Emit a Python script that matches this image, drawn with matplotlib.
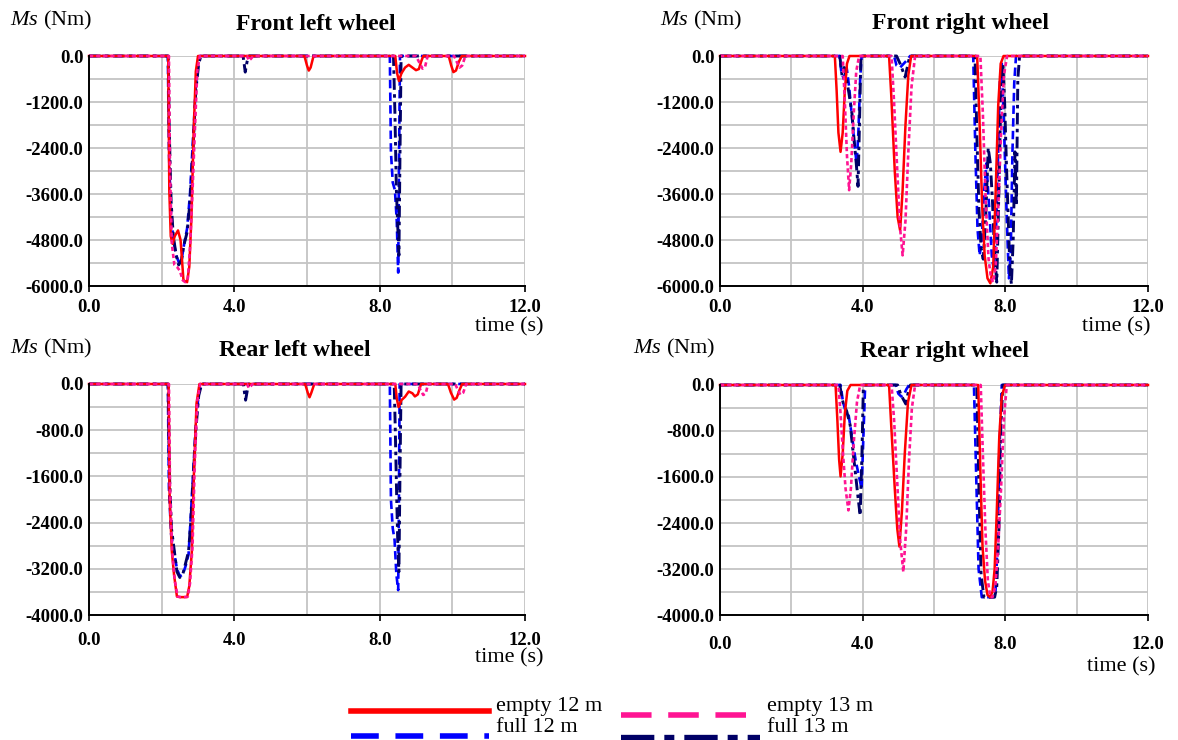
import matplotlib
matplotlib.use("Agg")
import matplotlib.pyplot as plt
from matplotlib.lines import Line2D

plt.rcParams['font.family'] = ['Liberation Serif', 'DejaVu Serif']
plt.rcParams['mathtext.fontset'] = 'custom'
plt.rcParams['mathtext.it'] = 'Liberation Serif:italic'
plt.rcParams['mathtext.rm'] = 'Liberation Serif'

# ---------------- data (time in s, Ms in Nm) ----------------
series_names = ["empty 12 m", "empty 13 m", "full 12 m", "full 13 m"]
panel_titles = ["Front left wheel", "Front right wheel", "Rear left wheel", "Rear right wheel"]
x_tick_values = [0.0, 4.0, 8.0, 12.0]
front_y_ticks = [0.0, -1200.0, -2400.0, -3600.0, -4800.0, -6000.0]
rear_y_ticks = [0.0, -800.0, -1600.0, -2400.0, -3200.0, -4000.0]

# Front left
fl_empty12_t = [0, 2.18, 2.21, 2.25, 2.3, 2.36, 2.45, 2.52, 2.6, 2.7, 2.76, 2.82, 2.88, 2.94, 3.0,
                5.93, 6.0, 6.05, 6.1, 6.18, 8.43, 8.48, 8.53, 8.6, 8.7, 8.8, 8.9, 9.0, 9.08, 9.14, 9.2,
                9.9, 9.97, 10.03, 10.1, 10.18, 10.26, 12]
fl_empty12_v = [0, 0, -3500, -4700, -4900, -4700, -4550, -4800, -5850, -5900, -5500, -4200, -2000, -400, 0,
                0, -250, -380, -300, 0, 0, -450, -650, -450, -300, -230, -300, -370, -340, -150, 0,
                0, -250, -420, -380, -150, 0, 0]
fl_empty13_t = [0, 2.2, 2.23, 2.28, 2.35, 2.42, 2.5, 2.58, 2.65, 2.72, 2.78, 2.85, 2.92, 2.98, 3.05,
                4.35, 4.4, 4.45, 4.52, 9.0, 9.08, 9.18, 9.25, 9.32, 10.05, 10.12, 10.2, 10.27, 10.36, 12]
fl_empty13_v = [0, 0, -3000, -4900, -5450, -5500, -5600, -5850, -5900, -5800, -5000, -3500, -1800, -400, 0,
                0, -120, -80, 0, 0, -150, -330, -280, 0, 0, -150, -300, -250, 0, 0]
fl_full12_t = [0, 2.17, 2.2, 2.25, 2.32, 2.4, 2.48, 2.55, 2.62, 2.7, 2.78, 2.86, 2.94, 3.0, 3.06,
               8.28, 8.31, 8.36, 8.42, 8.47, 8.51, 8.53, 8.56, 12]
fl_full12_v = [0, 0, -2500, -4000, -4800, -5200, -5400, -5300, -4900, -4500, -3600, -2200, -800, -150, 0,
               0, -2500, -3300, -3500, -4300, -5650, -3000, 0, 0]
fl_full13_t = [0, 2.18, 2.21, 2.26, 2.32, 2.4, 2.47, 2.55, 2.62, 2.7, 2.78, 2.86, 2.94, 3.02, 3.08,
               4.24, 4.27, 4.3, 4.35, 4.4, 8.38, 8.42, 8.46, 8.5, 8.53, 8.56, 8.59, 12]
fl_full13_v = [0, 0, -2000, -3800, -4700, -5200, -5450, -5300, -4900, -4600, -3800, -2500, -900, -200, 0,
               0, -200, -420, -150, 0, 0, -1500, -3500, -4500, -5200, -2500, 0, 0]

# Front right
fr_empty12_t = [0, 3.22, 3.27, 3.32, 3.38, 3.44, 3.5, 3.56, 3.63, 4.74, 4.8, 4.9, 4.98, 5.05, 5.12, 5.2,
                5.28, 5.36, 7.21, 7.27, 7.35, 7.42, 7.5, 7.58, 7.66, 7.73, 7.8, 7.87, 7.95, 12]
fr_empty12_v = [0, 0, -900, -2000, -2500, -2000, -900, -200, 0, 0, -1000, -3000, -4200, -4550, -3500, -1800,
                -500, 0, 0, -1500, -3900, -5200, -5800, -5930, -5500, -3500, -1300, -200, 0, 0]
fr_empty13_t = [0, 3.44, 3.5, 3.56, 3.62, 3.68, 3.75, 3.82, 3.9, 4.81, 4.88, 4.97, 5.05, 5.12, 5.2, 5.28,
                5.37, 5.47, 7.3, 7.37, 7.45, 7.53, 7.6, 7.66, 7.73, 7.8, 7.88, 7.96, 8.05, 12]
fr_empty13_v = [0, 0, -1200, -2600, -3500, -2800, -1500, -400, 0, 0, -1200, -3000, -4500, -5200, -4300, -2500,
                -800, 0, 0, -1500, -3800, -5300, -5800, -5900, -5500, -4000, -2000, -500, 0, 0]
fr_full12_t = [0, 3.35, 3.4, 3.47, 3.55, 3.62, 3.7, 3.77, 3.83, 3.88, 3.93, 3.97, 4.88, 4.95, 5.05, 5.15,
               5.25, 5.33, 7.1, 7.16, 7.22, 7.28, 7.34, 7.4, 7.47, 7.55, 7.62, 7.68, 7.74, 7.8, 7.85, 7.9,
               7.95, 8.0, 8.05, 8.1, 8.15, 8.2, 8.25, 8.3, 12]
fr_full12_v = [0, 0, -400, -600, -300, -800, -1600, -2300, -2800, -2000, -600, 0, 0, -250, -300, -200,
               -100, 0, 0, -2500, -4500, -5200, -4800, -3600, -2800, -4000, -5200, -5600, -4500, -2500, -600, -200,
               -1500, -3000, -4500, -5800, -5200, -2500, -700, 0, 0]
fr_full13_t = [0, 3.36, 3.42, 3.48, 3.55, 3.62, 3.7, 3.76, 3.82, 3.87, 3.91, 3.95, 4.95, 5.05, 5.13, 5.19,
               5.25, 5.32, 7.15, 7.2, 7.26, 7.32, 7.38, 7.45, 7.52, 7.58, 7.64, 7.7, 7.76, 7.82, 7.88, 7.93,
               7.98, 8.03, 8.08, 8.13, 8.17, 8.22, 8.27, 8.31, 8.35, 8.4, 12]
fr_full13_v = [0, 0, -500, -300, -600, -1000, -1500, -2200, -2800, -3400, -1800, 0, 0, -200, -400, -550,
               -300, 0, 0, -2000, -4000, -5000, -5300, -4200, -2400, -2800, -3800, -5200, -5900, -3500, -800, -200,
               -1200, -2800, -4200, -5600, -5950, -4800, -2500, -3900, -600, 0, 0]

# Rear left
rl_empty12_t = [0, 2.19, 2.22, 2.28, 2.34, 2.42, 2.5, 2.6, 2.7, 2.76, 2.83, 2.89, 2.96, 3.04,
                5.95, 6.02, 6.07, 6.12, 6.2, 8.43, 8.47, 8.52, 8.6, 8.7, 8.8, 8.9, 8.97, 9.05, 9.14,
                9.88, 9.96, 10.05, 10.12, 10.2, 10.27, 12]
rl_empty12_v = [0, 0, -2000, -2900, -3300, -3680, -3690, -3690, -3690, -3500, -2900, -1500, -330, 0,
                0, -150, -230, -150, 0, 0, -250, -400, -280, -220, -130, -160, -215, -180, 0,
                0, -150, -270, -240, -100, 0, 0]
rl_empty13_t = [0, 2.2, 2.23, 2.29, 2.36, 2.44, 2.52, 2.62, 2.72, 2.78, 2.85, 2.91, 2.98, 3.06,
                4.35, 4.4, 4.45, 4.5, 9.05, 9.12, 9.2, 9.27, 9.33, 10.08, 10.15, 10.22, 10.3, 10.38, 12]
rl_empty13_v = [0, 0, -1800, -2900, -3400, -3680, -3690, -3690, -3680, -3450, -2800, -1400, -300, 0,
                0, -70, -40, 0, 0, -100, -190, -160, 0, 0, -100, -185, -150, 0, 0]
rl_full12_t = [0, 2.17, 2.2, 2.26, 2.34, 2.42, 2.5, 2.58, 2.66, 2.74, 2.8, 2.87, 2.94, 3.02, 3.1,
               8.28, 8.31, 8.36, 8.41, 8.46, 8.51, 8.53, 8.55, 12]
rl_full12_v = [0, 0, -1800, -2600, -2900, -3200, -3330, -3300, -3150, -2950, -2300, -1500, -700, -150, 0,
               0, -2000, -2500, -2700, -3300, -3570, -2000, 0, 0]
rl_full13_t = [0, 2.18, 2.21, 2.27, 2.35, 2.42, 2.5, 2.58, 2.66, 2.74, 2.8, 2.87, 2.94, 3.02, 3.1,
               4.25, 4.28, 4.31, 4.36, 4.4, 8.4, 8.43, 8.47, 8.5, 8.53, 8.56, 8.59, 12]
rl_full13_v = [0, 0, -1500, -2500, -2900, -3250, -3350, -3300, -3100, -2900, -2400, -1600, -800, -200, 0,
               0, -150, -280, -100, 0, 0, -800, -2000, -2800, -3250, -1500, 0, 0]

# Rear right
rr_empty12_t = [0, 3.24, 3.29, 3.34, 3.38, 3.44, 3.5, 3.57, 3.66, 4.74, 4.8, 4.9, 4.97, 5.03, 5.1, 5.18,
                5.27, 5.37, 7.24, 7.3, 7.36, 7.43, 7.5, 7.57, 7.64, 7.7, 7.76, 7.83, 7.9, 7.99, 12]
rr_empty12_v = [0, 0, -600, -1300, -1590, -1200, -500, -100, 0, 0, -700, -1800, -2500, -2810, -2200, -1200,
                -300, 0, 0, -1500, -2800, -3400, -3650, -3690, -3600, -3200, -2200, -900, -200, 0, 0]
rr_empty13_t = [0, 3.32, 3.38, 3.45, 3.52, 3.6, 3.67, 3.75, 3.84, 3.93, 4.81, 4.88, 4.97, 5.05, 5.14, 5.22,
                5.3, 5.38, 5.47, 7.31, 7.37, 7.44, 7.51, 7.58, 7.64, 7.72, 7.8, 7.88, 7.96, 8.04, 12]
rr_empty13_v = [0, 0, -500, -1200, -1800, -2180, -1800, -1000, -300, 0, 0, -600, -1700, -2700, -3250, -2500,
                -1300, -400, 0, 0, -1200, -2500, -3400, -3690, -3690, -3500, -2800, -1800, -600, 0, 0]
rr_full12_t = [0, 3.38, 3.45, 3.52, 3.6, 3.7, 3.8, 3.9, 3.97, 4.02, 4.07, 4.93, 5.0, 5.08, 5.15, 5.22, 5.3,
               7.12, 7.18, 7.25, 7.34, 7.45, 7.55, 7.65, 7.72, 7.78, 7.83, 7.9, 12]
rr_full12_v = [0, 0, -300, -450, -500, -900, -1300, -1600, -1800, -900, 0, 0, -150, -200, -180, -80, 0,
               0, -1500, -3200, -3690, -3690, -3690, -3690, -3650, -2800, -1200, 0, 0]
rr_full13_t = [0, 3.36, 3.41, 3.46, 3.55, 3.65, 3.72, 3.79, 3.86, 3.93, 3.98, 4.02, 4.98, 5.06, 5.14, 5.21,
               5.27, 5.34, 7.2, 7.26, 7.32, 7.4, 7.5, 7.6, 7.7, 7.76, 7.82, 7.87, 7.93, 12]
rr_full13_v = [0, 0, -200, -330, -450, -700, -1100, -1490, -1900, -2270, -1200, 0, 0, -150, -250, -330,
               -150, 0, 0, -1800, -3300, -3690, -3690, -3690, -3690, -3500, -2500, -800, 0, 0]

# ---------------- styling ----------------
W, H = 1178, 740
fig = plt.figure(figsize=(W / 100, H / 100), dpi=100)

def fx(x):
    return x / W

def fy(y):
    return 1 - y / H

styles = {
    "empty 12 m": dict(color="#FF0000", lw=1.8, ls="-"),
    "empty 13 m": dict(color="#FF1493", lw=1.9, dashes=(1.6, 1.1)),
    "full 12 m": dict(color="#0000FF", lw=1.9, dashes=(3.2, 1.6)),
    "full 13 m": dict(color="#000066", lw=2.1, dashes=(4, 1.5, 1.2, 1.5)),
}

panels = [
    dict(title=panel_titles[0], box=(89, 56, 525, 286), yt=front_y_ticks, ystep=600, xpad=5,
         data={"full 12 m": (fl_full12_t, fl_full12_v), "full 13 m": (fl_full13_t, fl_full13_v),
               "empty 12 m": (fl_empty12_t, fl_empty12_v), "empty 13 m": (fl_empty13_t, fl_empty13_v)},
         title_xy=(316, 25), ms_xy=(10, 20), time_xy=(509, 327)),
    dict(title=panel_titles[1], box=(720, 56, 1148, 286), yt=front_y_ticks, ystep=600, xpad=5,
         data={"full 12 m": (fr_full12_t, fr_full12_v), "full 13 m": (fr_full13_t, fr_full13_v),
               "empty 12 m": (fr_empty12_t, fr_empty12_v), "empty 13 m": (fr_empty13_t, fr_empty13_v)},
         title_xy=(961, 24), ms_xy=(660, 20), time_xy=(1116, 327)),
    dict(title=panel_titles[2], box=(89, 384, 525, 615), yt=rear_y_ticks, ystep=400, xpad=8,
         data={"full 12 m": (rl_full12_t, rl_full12_v), "full 13 m": (rl_full13_t, rl_full13_v),
               "empty 12 m": (rl_empty12_t, rl_empty12_v), "empty 13 m": (rl_empty13_t, rl_empty13_v)},
         title_xy=(295, 350), ms_xy=(10, 348), time_xy=(509, 658)),
    dict(title=panel_titles[3], box=(720, 385, 1148, 615), yt=rear_y_ticks, ystep=400, xpad=11,
         data={"full 12 m": (rr_full12_t, rr_full12_v), "full 13 m": (rr_full13_t, rr_full13_v),
               "empty 12 m": (rr_empty12_t, rr_empty12_v), "empty 13 m": (rr_empty13_t, rr_empty13_v)},
         title_xy=(945, 352), ms_xy=(633, 348), time_xy=(1121, 667)),
]

for p in panels:
    x0, y0, x1, y1 = p["box"]
    ax = fig.add_axes([fx(x0), fy(y1), (x1 - x0) / W, (y1 - y0) / H])
    ymin = min(p["yt"])
    ax.set_xlim(0, 12)
    ax.set_ylim(ymin, 0)
    ax.set_xticks(x_tick_values)
    ax.set_xticklabels([f"{v:.1f}" for v in x_tick_values], fontweight="bold", fontsize=13.5)
    ax.set_xticks([2, 6, 10], minor=True)
    ax.set_yticks(p["yt"])
    ax.set_yticklabels([f"{v:.1f}" for v in p["yt"]], fontweight="bold", fontsize=13.5)
    minors = [v - p["ystep"] for v in p["yt"][:-1]]
    ax.set_yticks(minors, minor=True)
    ax.grid(True, which="both", color="#C4C4C4", lw=1.3)
    ax.set_axisbelow(True)
    ax.tick_params(axis="x", which="major", length=4, width=1.2, pad=p["xpad"])
    ax.tick_params(axis="y", which="major", length=0, pad=4)
    ax.tick_params(which="minor", length=0)
    for s in ["top", "right"]:
        ax.spines[s].set_visible(False)
    for s in ["left", "bottom"]:
        ax.spines[s].set_linewidth(1.4)
        ax.spines[s].set_color("black")
    for name in ["full 12 m", "full 13 m", "empty 12 m", "empty 13 m"]:
        t, v = p["data"][name]
        ax.plot(t, v, clip_on=False, **styles[name])
    fig.text(fx(p["title_xy"][0]), fy(p["title_xy"][1]), p["title"], ha="center", va="center",
             fontsize=17, fontweight="bold")
    fig.text(fx(p["ms_xy"][0]), fy(p["ms_xy"][1]), r"$\mathit{Ms}$ (Nm)", ha="left", va="center",
             fontsize=16)
    fig.text(fx(p["time_xy"][0]), fy(p["time_xy"][1]), "time (s)", ha="center", va="center", fontsize=16)

# ---------------- legend ----------------
leg_styles = {
    "empty 12 m": dict(color="#FF0000", lw=4, ls="-"),
    "empty 13 m": dict(color="#FF1493", lw=4, dashes=(5.5, 3)),
    "full 12 m": dict(color="#0000FF", lw=4, dashes=(5, 3)),
    "full 13 m": dict(color="#000066", lw=6, dashes=(4, 1.2, 1.2, 1.2)),
}
leg_pos = {
    "empty 12 m": ((351, 489), 711, (496, 707)),
    "empty 13 m": ((621, 760), 715, (767, 707)),
    "full 12 m": ((351, 489), 736, (496, 728)),
    "full 13 m": ((621, 760), 739, (767, 728)),
}
for name in series_names:
    (xa, xb), yl, (tx, ty) = leg_pos[name]
    fig.add_artist(Line2D([fx(xa), fx(xb)], [fy(yl), fy(yl)], transform=fig.transFigure,
                          **leg_styles[name]))
    fig.text(fx(tx), fy(ty), name, ha="left", va="center", fontsize=16)

fig.savefig("out.png", dpi=100)
